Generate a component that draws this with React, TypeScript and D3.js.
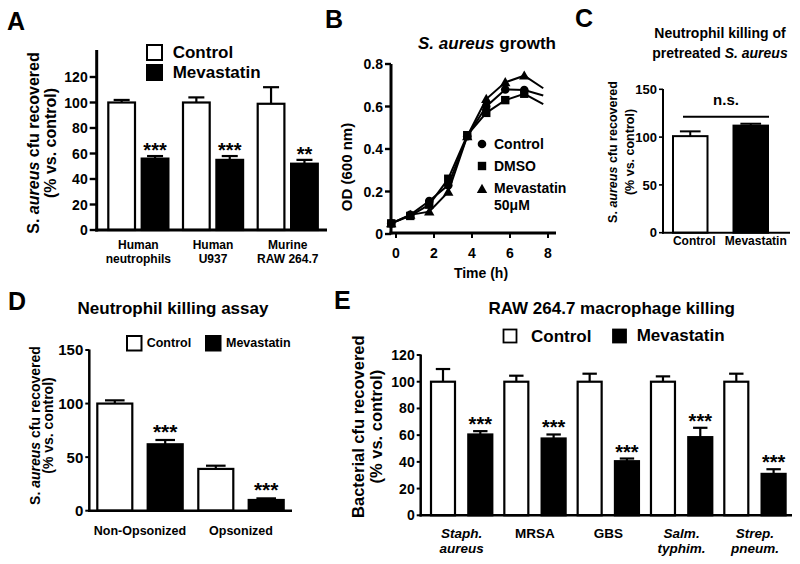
import React from "react";
import * as d3 from "d3";

const FONT = "'Liberation Sans', Arial, Helvetica, sans-serif";

// ---------- Panel A data ----------
const catsA = [["Human", "neutrophils"], ["Human", "U937"], ["Murine", "RAW 264.7"]];
const ctrlA = [100, 100, 99];
const ctrlErrA = [2, 4, 13];
const mevaA = [56, 55, 52];
const mevaErrA = [2, 3, 3];
const sigA = ["***", "***", "**"];
const ticksA = [0, 20, 40, 60, 80, 100, 120];

// ---------- Panel B data ----------
const timeB = [-0.25, 0.75, 1.75, 2.75, 3.75, 4.75, 5.75, 6.75, 7.75];
const ctrlB = [0.05, 0.09, 0.155, 0.23, 0.46, 0.6, 0.68, 0.678, 0.652];
const dmsoB = [0.05, 0.085, 0.138, 0.26, 0.465, 0.57, 0.63, 0.66, 0.611];
const mevaB = [0.05, 0.09, 0.105, 0.198, 0.46, 0.635, 0.714, 0.745, 0.686];
const ticksBy = [0, 0.2, 0.4, 0.6, 0.8];
const ticksBx = [0, 2, 4, 6, 8];

// ---------- Panel C data ----------
const catsC = ["Control", "Mevastatin"];
const valC = [101, 112];
const errC = [5, 2];
const ticksC = [0, 50, 100, 150];

// ---------- Panel D data ----------
const catsD = ["Non-Opsonized", "Opsonized"];
const ctrlD = [100, 39];
const ctrlErrD = [3, 3];
const mevaD = [62, 10];
const mevaErrD = [4, 1.5];
const sigD = ["***", "***"];
const ticksD = [0, 50, 100, 150];

// ---------- Panel E data ----------
const catsE = [["Staph.", "aureus"], ["MRSA"], ["GBS"], ["Salm.", "typhim."], ["Strep.", "pneum."]];
const italicE = [true, false, false, true, true];
const ctrlE = [100, 100, 100, 100, 100];
const ctrlErrE = [9.5, 4.5, 6, 4, 6];
const mevaE = [60.5, 57.5, 40.5, 58.5, 31];
const mevaErrE = [2.5, 3, 2, 7, 3.5];
const sigE = ["***", "***", "***", "***", "***"];
const ticksE = [0, 20, 40, 60, 80, 100, 120];

type YS = d3.ScaleLinear<number, number>;

function YAxis({ x, y, ticks, top, bottom, w, tl, fs, fmt }: any) {
  return (
    <g>
      <line x1={x} x2={x} y1={top} y2={bottom} stroke="#000" strokeWidth={w} />
      {ticks.map((t: number) => (
        <g key={t}>
          <line x1={x - tl} x2={x} y1={y(t)} y2={y(t)} stroke="#000" strokeWidth={w * 0.8} />
          <text x={x - tl - 2} y={y(t)} dy="0.36em" textAnchor="end" fontSize={fs} fontWeight="bold">
            {fmt ? fmt(t) : t}
          </text>
        </g>
      ))}
    </g>
  );
}

function Bar({ x, w, y, v, err, fill, sw, capFrac = 0.28 }: any) {
  const y0 = y(0);
  const yt = y(v);
  const ye = y(v + err);
  const cx = x + w / 2;
  const cw = w * capFrac;
  return (
    <g>
      <line x1={cx} x2={cx} y1={yt} y2={ye} stroke="#000" strokeWidth={sw} />
      <line x1={cx - cw} x2={cx + cw} y1={ye} y2={ye} stroke="#000" strokeWidth={sw} />
      <rect x={x} y={yt} width={w} height={y0 - yt} fill={fill} stroke="#000" strokeWidth={sw} />
    </g>
  );
}

function VLabel({ cx, cy, fs, lines }: any) {
  return (
    <g>
      {lines.map((ln: any, i: number) => (
        <text
          key={i}
          transform={`translate(${cx[i] + 0.35 * fs},${cy}) rotate(-90)`}
          textAnchor="middle"
          fontSize={fs}
          fontWeight="bold"
        >
          {ln.map((p: any, j: number) => (
            <tspan key={j} fontStyle={p[1] ? "italic" : "normal"}>
              {p[0]}
            </tspan>
          ))}
        </text>
      ))}
    </g>
  );
}

function PanelA() {
  const y: YS = d3.scaleLinear().domain([0, 140]).range([230, 51.5]);
  const x = d3.scaleLinear().domain([0, 2]).range([108.3, 257.7]);
  const bw = 26.7;
  const off = 33.4;
  return (
    <g>
      <text x={7} y={30} fontSize={25} fontWeight="bold">A</text>
      <VLabel
        cx={[33, 50]}
        cy={143}
        fs={16}
        lines={[
          [["S. ", false], ["aureus", true], [" cfu recovered", false]],
          [["(% vs. control)", false]],
        ]}
      />
      {catsA.map((c, i) => (
        <g key={i}>
          <Bar x={x(i)} w={bw} y={y} v={ctrlA[i]} err={ctrlErrA[i]} fill="#fff" sw={2.2} capFrac={0.3} />
          <Bar x={x(i) + off} w={bw} y={y} v={mevaA[i]} err={mevaErrA[i]} fill="#000" sw={2.2} capFrac={0.3} />
          <text x={x(i) + off + bw / 2} y={y(mevaA[i] + mevaErrA[i]) + 1} textAnchor="middle" fontSize={20} fontWeight="bold">
            {sigA[i]}
          </text>
          {c.map((s, k) => (
            <text key={k} x={x(i) + (off + bw) / 2} y={245 + k * 14} dy="0.35em" textAnchor="middle" fontSize={12} fontWeight="bold">
              {s}
            </text>
          ))}
        </g>
      ))}
      <YAxis x={96.7} y={y} ticks={ticksA} top={50} bottom={231.5} w={3} tl={7} fs={14} />
      <line x1={95.2} x2={327} y1={230} y2={230} stroke="#000" strokeWidth={3} />
      <rect x={147} y={45} width={15} height={15} fill="#fff" stroke="#000" strokeWidth={2} />
      <text x={172.7} y={52.5} dy="0.35em" fontSize={17} fontWeight="bold">Control</text>
      <rect x={147} y={65} width={15} height={15} fill="#000" stroke="#000" strokeWidth={2} />
      <text x={172.7} y={72.5} dy="0.35em" fontSize={17} fontWeight="bold">Mevastatin</text>
    </g>
  );
}

function Marker({ kind, x, y }: any) {
  if (kind === "circle") return <circle cx={x} cy={y} r={4.3} fill="#000" />;
  if (kind === "square") return <rect x={x - 4.2} y={y - 4.2} width={8.4} height={8.4} fill="#000" />;
  const s = 5.2;
  return <path d={`M${x},${y - s}L${x + s},${y + s * 0.75}L${x - s},${y + s * 0.75}Z`} fill="#000" />;
}

function PanelB() {
  const x = d3.scaleLinear().domain([0, 8]).range([396, 548]);
  const y: YS = d3.scaleLinear().domain([0, 0.8]).range([234, 64]);
  const series = [
    { v: ctrlB, kind: "circle" },
    { v: dmsoB, kind: "square" },
    { v: mevaB, kind: "triangle" },
  ];
  const line = d3
    .line<number>()
    .x((_, i) => x(timeB[i]))
    .y((d) => y(d));
  return (
    <g>
      <text x={325} y={28} fontSize={25} fontWeight="bold">B</text>
      <text x={487} y={43} dy="0.35em" textAnchor="middle" fontSize={17} fontWeight="bold">
        <tspan fontStyle="italic">S. aureus</tspan> growth
      </text>
      <VLabel cx={[347]} cy={167} fs={15} lines={[[["OD  (600 nm)", false]]]} />
      {series.map((s, k) => (
        <g key={k}>
          <path d={line(s.v) || ""} fill="none" stroke="#000" strokeWidth={2} />
          {s.v.slice(0, s.v.length - 1).map((d, i) => (
            <Marker key={i} kind={s.kind} x={x(timeB[i])} y={y(d)} />
          ))}
        </g>
      ))}
      <YAxis x={391} y={y} ticks={ticksBy} top={64} bottom={234.5} w={3} tl={6} fs={14} fmt={(t: number) => (t === 0 ? "0" : d3.format(".1f")(t))} />
      <line x1={389.5} x2={556} y1={233} y2={233} stroke="#000" strokeWidth={3} />
      {ticksBx.map((t) => (
        <g key={t}>
          <line x1={x(t)} x2={x(t)} y1={233} y2={238} stroke="#000" strokeWidth={2} />
          <text x={x(t)} y={253} dy="0.35em" textAnchor="middle" fontSize={14} fontWeight="bold">{t}</text>
        </g>
      ))}
      <text x={481} y={273} dy="0.35em" textAnchor="middle" fontSize={14} fontWeight="bold">Time (h)</text>
      <Marker kind="circle" x={482} y={144} />
      <text x={494} y={144} dy="0.35em" fontSize={14} fontWeight="bold">Control</text>
      <Marker kind="square" x={482} y={166} />
      <text x={494} y={166} dy="0.35em" fontSize={14} fontWeight="bold">DMSO</text>
      <Marker kind="triangle" x={482} y={189} />
      <text x={494} y={188} dy="0.35em" fontSize={14} fontWeight="bold">Mevastatin</text>
      <text x={494} y={205} dy="0.35em" fontSize={14} fontWeight="bold">50μM</text>
    </g>
  );
}

function PanelC() {
  const y: YS = d3.scaleLinear().domain([0, 150]).range([232.7, 89.3]);
  const x = d3.scaleLinear().domain([0, 1]).range([673, 733.5]);
  const bw = 34.5;
  return (
    <g>
      <text x={575} y={27} fontSize={25} fontWeight="bold">C</text>
      <text x={720} y={33} dy="0.35em" textAnchor="middle" fontSize={14} fontWeight="bold">Neutrophil killing of</text>
      <text x={720} y={53} dy="0.35em" textAnchor="middle" fontSize={14} fontWeight="bold">
        pretreated <tspan fontStyle="italic">S. aureus</tspan>
      </text>
      <VLabel
        cx={[613, 630]}
        cy={152}
        fs={12.5}
        lines={[
          [["S. ", false], ["aureus", true], [" cfu recovered", false]],
          [["(% vs. control)", false]],
        ]}
      />
      {catsC.map((c, i) => (
        <g key={i}>
          <Bar x={x(i)} w={bw} y={y} v={valC[i]} err={errC[i]} fill={i === 0 ? "#fff" : "#000"} sw={2} capFrac={0.3} />
          <text x={x(i) + bw / 2 + (i === 0 ? 4 : 5)} y={241} dy="0.35em" textAnchor="middle" fontSize={12} fontWeight="bold">{c}</text>
        </g>
      ))}
      <YAxis x={663} y={y} ticks={ticksC} top={89} bottom={233.7} w={2} tl={4} fs={13} />
      <line x1={662} x2={790} y1={232.7} y2={232.7} stroke="#000" strokeWidth={2} />
      <line x1={683} x2={769} y1={116.7} y2={116.7} stroke="#000" strokeWidth={2} />
      <text x={726} y={100} dy="0.35em" textAnchor="middle" fontSize={15} fontWeight="bold">n.s.</text>
    </g>
  );
}

function PanelD() {
  const y: YS = d3.scaleLinear().domain([0, 150]).range([510.7, 350]);
  const x = d3.scaleLinear().domain([0, 1]).range([97.3, 198.3]);
  const bw = 35;
  const off = 50.4;
  return (
    <g>
      <text x={8} y={310} fontSize={25} fontWeight="bold">D</text>
      <text x={173} y={308.3} dy="0.35em" textAnchor="middle" fontSize={17} fontWeight="bold">Neutrophil killing assay</text>
      <VLabel
        cx={[35, 48.3]}
        cy={425.5}
        fs={14}
        lines={[
          [["S. ", false], ["aureus", true], [" cfu recovered", false]],
          [["(% vs. control)", false]],
        ]}
      />
      {catsD.map((c, i) => (
        <g key={i}>
          <Bar x={x(i)} w={bw} y={y} v={ctrlD[i]} err={ctrlErrD[i]} fill="#fff" sw={2.2} capFrac={0.28} />
          <Bar x={x(i) + off} w={bw} y={y} v={mevaD[i]} err={mevaErrD[i]} fill="#000" sw={2.2} capFrac={0.28} />
          <text x={x(i) + off + bw / 2} y={y(mevaD[i] + mevaErrD[i]) - 1} textAnchor="middle" fontSize={21} fontWeight="bold">
            {sigD[i]}
          </text>
          <text x={x(i) + (off + bw) / 2} y={530.7} dy="0.35em" textAnchor="middle" fontSize={12.5} fontWeight="bold">{c}</text>
        </g>
      ))}
      <YAxis x={89.3} y={y} ticks={ticksD} top={349.5} bottom={511.9} w={2.5} tl={4} fs={15} />
      <line x1={88} x2={292} y1={510.7} y2={510.7} stroke="#000" strokeWidth={2.5} />
      <rect x={127} y={336} width={14.5} height={14.5} fill="#fff" stroke="#000" strokeWidth={2} />
      <text x={146.7} y={343} dy="0.35em" fontSize={12.5} fontWeight="bold">Control</text>
      <rect x={206} y={336} width={14.5} height={14.5} fill="#000" stroke="#000" strokeWidth={2} />
      <text x={226} y={343} dy="0.35em" fontSize={12.5} fontWeight="bold">Mevastatin</text>
    </g>
  );
}

function PanelE() {
  const y: YS = d3.scaleLinear().domain([0, 120]).range([515.3, 355]);
  const x = d3.scaleLinear().domain([0, 4]).range([431, 724.3]);
  const bw = 24;
  const off = 37.3;
  return (
    <g>
      <text x={334} y={309} fontSize={25} fontWeight="bold">E</text>
      <text x={611.7} y={308.3} dy="0.35em" textAnchor="middle" fontSize={17} fontWeight="bold">RAW 264.7 macrophage killing</text>
      <VLabel
        cx={[358.3, 376.7]}
        cy={426.7}
        fs={16.5}
        lines={[[["Bacterial cfu recovered", false]], [["(% vs. control)", false]]]}
      />
      {catsE.map((c, i) => (
        <g key={i}>
          <Bar x={x(i)} w={bw} y={y} v={ctrlE[i]} err={ctrlErrE[i]} fill="#fff" sw={2.2} capFrac={0.3} />
          <Bar x={x(i) + off} w={bw} y={y} v={mevaE[i]} err={mevaErrE[i]} fill="#000" sw={2.2} capFrac={0.3} />
          <text x={x(i) + off + bw / 2} y={y(mevaE[i] + mevaErrE[i]) + 0} textAnchor="middle" fontSize={20} fontWeight="bold">
            {sigE[i]}
          </text>
          {c.map((s, k) => (
            <text
              key={k}
              x={x(i) + (off + bw) / 2}
              y={533.3 + k * 15}
              dy="0.35em"
              textAnchor="middle"
              fontSize={13.5}
              fontWeight="bold"
              fontStyle={italicE[i] ? "italic" : "normal"}
            >
              {s}
            </text>
          ))}
        </g>
      ))}
      <YAxis x={420.7} y={y} ticks={ticksE} top={354.5} bottom={516.5} w={2.5} tl={4} fs={14} />
      <line x1={419.5} x2={792} y1={515.3} y2={515.3} stroke="#000" strokeWidth={2.5} />
      <rect x={503.5} y={329.5} width={13} height={13} fill="#fff" stroke="#000" strokeWidth={1.8} />
      <text x={531} y={336.5} dy="0.35em" fontSize={17} fontWeight="bold">Control</text>
      <rect x={613} y={329.5} width={13} height={13} fill="#000" stroke="#000" strokeWidth={1.8} />
      <text x={636.7} y={335.5} dy="0.35em" fontSize={17} fontWeight="bold">Mevastatin</text>
    </g>
  );
}

export default function App() {
  return (
    <svg
      width={800}
      height={564}
      viewBox="0 0 800 564"
      style={{ position: "absolute", left: 0, top: 0, background: "#fff" }}
      fontFamily={FONT}
    >
      <rect x={0} y={0} width={800} height={564} fill="#fff" />
      <PanelA />
      <PanelB />
      <PanelC />
      <PanelD />
      <PanelE />
    </svg>
  );
}
